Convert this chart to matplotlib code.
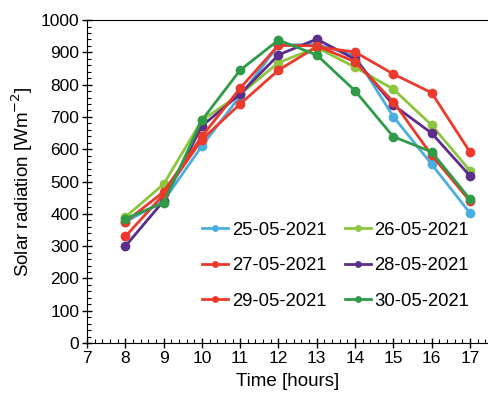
import numpy as np
import matplotlib.pyplot as plt
from matplotlib.ticker import MultipleLocator

plt.rcParams['font.family'] = ['Liberation Sans', 'DejaVu Sans']

hours = [8, 9, 10, 11, 12, 13, 14, 15, 16, 17]

d25 = [375, 440, 610, 765, 922, 925, 890, 701, 554, 403]
d26 = [390, 492, 690, 770, 868, 915, 854, 786, 675, 534]
d27 = [375, 468, 640, 789, 922, 920, 871, 747, 582, 440]
d28 = [300, 440, 672, 771, 892, 941, 879, 737, 650, 518]
d29 = [330, 460, 630, 740, 845, 917, 901, 833, 775, 592]
d30 = [385, 434, 690, 845, 938, 892, 781, 639, 592, 446]

labels = ['25-05-2021', '26-05-2021', '27-05-2021', '28-05-2021', '29-05-2021', '30-05-2021']
colors = ['#4aaee0', '#8cc63f', '#e8392b', '#5c2d8a', '#ec3a2c', '#2f9a48']

fig = plt.figure(figsize=(4.89, 3.93), dpi=100)
ax = fig.add_axes([0.178, 0.127, 0.822, 0.822])

series = [d25, d26, d27, d28, d29, d30]
draw_order = [1, 0, 3, 4, 2, 5]
lines = {}
for i in draw_order:
    ln, = ax.plot(hours, series[i], '-o', color=colors[i], lw=2.0, ms=6, label=labels[i])
    lines[i] = ln

ax.set_xlim(7, 17.5)
ax.set_ylim(0, 1000)
ax.xaxis.set_major_locator(MultipleLocator(1))
ax.xaxis.set_minor_locator(MultipleLocator(0.2))
ax.yaxis.set_major_locator(MultipleLocator(100))
ax.yaxis.set_minor_locator(MultipleLocator(20))
ax.tick_params(which='major', direction='inout', length=7, width=1, labelsize=12.5, pad=2)
ax.tick_params(which='minor', direction='in', length=3, width=0.8)
ax.spines['right'].set_visible(False)

ax.set_xlabel('Time [hours]', fontsize=13.5, labelpad=5)
ax.set_ylabel('Solar radiation [Wm$^{-2}$]', fontsize=13.5, labelpad=4)

# row-wise legend: 25 26 / 27 28 / 29 30
order = [0, 2, 4, 1, 3, 5]
ax.legend([lines[i] for i in order], [labels[i] for i in order], ncol=2, frameon=False,
          fontsize=13.3, loc='lower right', bbox_to_anchor=(0.992, 0.052),
          handlelength=1.4, handletextpad=0.2, columnspacing=1.0,
          labelspacing=1.0, markerscale=0.65)

fig.savefig('out.png', dpi=100)
